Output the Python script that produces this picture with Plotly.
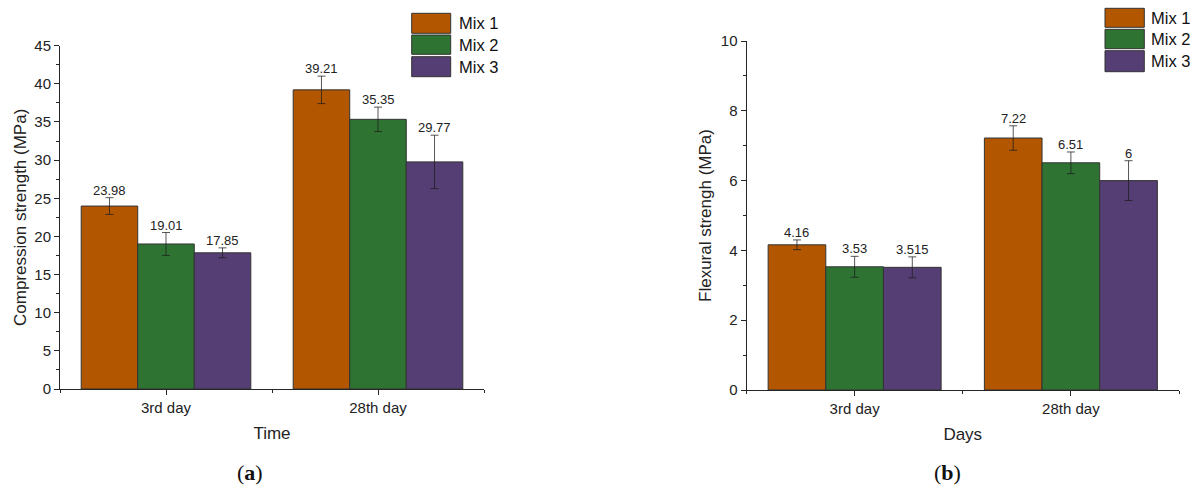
import plotly.graph_objects as go

# ---- data ----
categories = ["3rd day", "28th day"]
mixes = ["Mix 1", "Mix 2", "Mix 3"]
colors = ["#B35600", "#2E7332", "#553E73"]

compression = {
    "Mix 1": [23.98, 39.21],
    "Mix 2": [19.01, 35.35],
    "Mix 3": [17.85, 29.77],
}
compression_err = {
    "Mix 1": [1.1, 1.8],
    "Mix 2": [1.5, 1.6],
    "Mix 3": [0.65, 3.5],
}
flexural = {
    "Mix 1": [4.16, 7.22],
    "Mix 2": [3.53, 6.51],
    "Mix 3": [3.515, 6.0],
}
flexural_err = {
    "Mix 1": [0.14, 0.35],
    "Mix 2": [0.3, 0.31],
    "Mix 3": [0.3, 0.57],
}

W, H = 1199, 489
FONT = "Liberation Sans, Arial, sans-serif"
AXIS_COLOR = "#262626"


def px(x):
    return x / W


def py(y):
    return 1 - y / H


fig = go.Figure()

xpos = list(range(len(categories)))
n = len(mixes)
group_w = 0.8
bar_w = group_w / n

panels = [
    (compression, compression_err, "x", "y"),
    (flexural, flexural_err, "x2", "y2"),
]

annotations = []
for values, errs, xa, ya in panels:
    for i, m in enumerate(mixes):
        fig.add_trace(go.Bar(
            x=xpos, y=values[m], name=m, xaxis=xa, yaxis=ya,
            marker=dict(color=colors[i], line=dict(color="#333333", width=1)),
            error_y=dict(type="data", array=errs[m], color="rgba(30,30,30,0.75)",
                         thickness=1, width=4),
            showlegend=False,
        ))
        off = (i - (n - 1) / 2) * bar_w
        for j, v in enumerate(values[m]):
            annotations.append(dict(
                x=xpos[j] + off, y=v + errs[m][j], xref=xa, yref=ya,
                text=f"{v:g}", showarrow=False, yanchor="bottom", yshift=-2,
                font=dict(family=FONT, size=13, color="#222222"),
            ))

axis_common = dict(
    showline=True, linecolor=AXIS_COLOR, linewidth=1, showgrid=False,
    zeroline=False, ticks="outside", ticklen=5, tickcolor=AXIS_COLOR,
    automargin=False,
    tickfont=dict(family=FONT, size=15, color="#222222"),
    title_font=dict(family=FONT, size=17, color="#222222"),
)

fig.update_layout(
    width=W, height=H,
    margin=dict(l=0, r=0, t=0, b=0, pad=0, autoexpand=False),
    paper_bgcolor="white", plot_bgcolor="white",
    showlegend=False,
    barmode="group", bargap=0.2, bargroupgap=0,
    xaxis=dict(axis_common, domain=[px(60), px(484)], range=[-0.5, 1.5],
               tickvals=xpos, ticktext=categories,
               minor=dict(ticks="outside", ticklen=3, tick0=0.5, dtick=1,
                          tickcolor=AXIS_COLOR),
               title=dict(text="Time", standoff=12)),
    yaxis=dict(axis_common, domain=[py(389), py(45.7)], range=[0, 45], dtick=5,
               minor=dict(ticks="outside", ticklen=3, dtick=2.5,
                          tickcolor=AXIS_COLOR),
               title=dict(text="Compression strength (MPa)", standoff=3)),
    xaxis2=dict(axis_common, domain=[px(746.5), px(1179)], range=[-0.5, 1.5],
                anchor="y2",
                tickvals=xpos, ticktext=categories,
                minor=dict(ticks="outside", ticklen=3, tick0=0.5, dtick=1,
                           tickcolor=AXIS_COLOR),
                title=dict(text="Days", standoff=12)),
    yaxis2=dict(axis_common, domain=[py(390), py(41)], range=[0, 10], dtick=2,
                anchor="x2",
                minor=dict(ticks="outside", ticklen=3, dtick=1,
                           tickcolor=AXIS_COLOR),
                title=dict(text="Flexural strengh (MPa)", standoff=4)),
)

# legend swatches drawn as boxes with labels
shapes = []
legend_boxes = [
    (411.7, 450.7, [(13.3, 33.3), (35.0, 54.3), (56.7, 76.7)], 457.3),
    (1105.0, 1144.3, [(8.3, 27.3), (29.3, 48.7), (50.7, 71.7)], 1149.3),
]
for x0, x1, rows, tx in legend_boxes:
    for i, (y0, y1) in enumerate(rows):
        shapes.append(dict(
            type="rect", xref="paper", yref="paper",
            x0=px(x0), x1=px(x1), y0=py(y1), y1=py(y0),
            fillcolor=colors[i], line=dict(color="#333333", width=1),
        ))
        annotations.append(dict(
            x=px(tx), y=py((y0 + y1) / 2), xref="paper", yref="paper",
            text=mixes[i], showarrow=False, xanchor="left", yanchor="middle",
            font=dict(family=FONT, size=16.5, color="#111111"),
        ))

# panel tags
for tag, cx in (("a", 249.5), ("b", 947.7)):
    annotations.append(dict(
        x=px(cx), y=py(472), xref="paper", yref="paper",
        text=f"(<b>{tag}</b>)", showarrow=False, xanchor="center",
        yanchor="middle",
        font=dict(family="Liberation Serif, serif", size=22, color="#111111"),
    ))

fig.update_layout(shapes=shapes, annotations=annotations)

fig.write_html("out.html")
